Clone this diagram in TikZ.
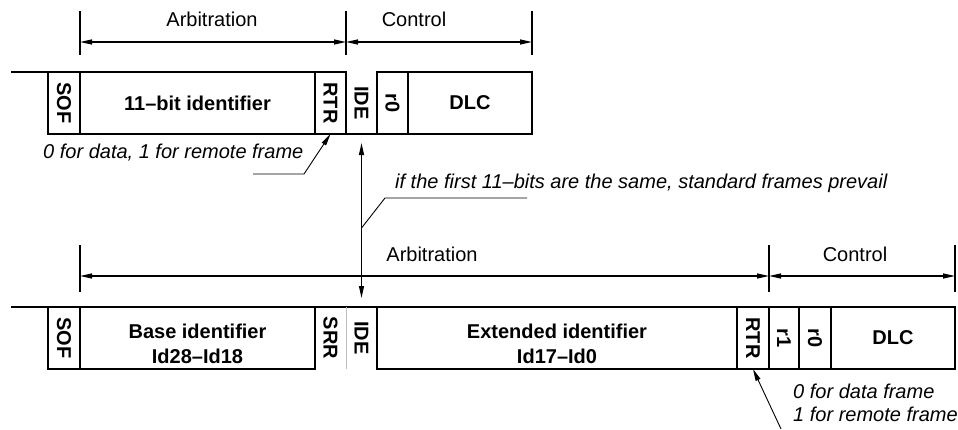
\documentclass[tikz,border=0pt]{standalone}
\usepackage{fontspec}
\setmainfont{Liberation Sans}
\usetikzlibrary{positioning, arrows.meta}
\tikzset{
	cell/.style={
		rectangle,
		draw,
		align=center,
		minimum height=62pt,
		inner sep=0pt,
		outer sep=0pt,
		line width=1.6pt,
		font=\bfseries\fontsize{20}{25}\selectfont,
	},
	bit/.style={
		cell,
		minimum width=31pt,
	},
	openbit/.style={
		cell,
		draw=none,
		minimum width=31pt,
	},
	celltext/.style={
		inner sep=0pt,
		align=center,
		font=\bfseries\fontsize{20}{25}\selectfont,
	},
	bus/.style={
		line width=1.6pt,
	},
	dimtick/.style={
		line width=1.2pt,
	},
	dimline/.style={
		<->,
		line width=1.2pt,
	},
	heading/.style={
		inner sep=0pt,
		font=\fontsize{20}{24}\selectfont,
	},
	note/.style={
		inner sep=0pt,
		align=left,
		font=\itshape\fontsize{20}{23}\selectfont,
	},
}

\begin{document}
\begin{tikzpicture}[x=1pt, y=1pt, >={Triangle[length=12pt, width=5pt]}]
		\useasboundingbox (0,0) rectangle (958,-429);

		% Standard frame
		\node [bit, minimum width=32pt, anchor=north west] (sofA) at (48,-72) {\rotatebox{-90}{SOF}};
		\node [cell, minimum width=235pt, right=0pt of sofA] (idA) {11--bit identifier};
		\node [bit, right=0pt of idA] (rtrA) {\rotatebox{-90}{RTR}};
		\node [openbit, right=0pt of rtrA] (ideA) {\rotatebox{-90}{IDE}};
		\node [bit, right=0pt of ideA] (r0A) {\rotatebox{-90}{r0}};
		\node [cell, minimum width=124pt, right=0pt of r0A] (dlcA) {DLC};

		\coordinate [left=37pt of sofA.north west] (busA);
		\draw [bus] (busA) -- (sofA.north west);
		\draw [bus] (ideA.south west) -- (ideA.south east);

		% Standard frame fields
		\draw [dimtick] (sofA.north east |- 0,-11) -- (sofA.north east |- 0,-55);
		\draw [dimtick] (rtrA.north east |- 0,-11) -- (rtrA.north east |- 0,-55);
		\draw [dimtick] (dlcA.north east |- 0,-11) -- (dlcA.north east |- 0,-55);
		\draw [dimline] (sofA.north east |- 0,-42) -- (rtrA.north east |- 0,-42);
		\draw [dimline] (rtrA.north east |- 0,-42) -- (dlcA.north east |- 0,-42);
		\node [heading] (arbA) at (212,-19) {Arbitration};
		\node [heading] (ctlA) at (414,-19) {Control};

		% RTR note
		\node [note, anchor=west] (noteA) at (43,-153) {0 for data, 1 for remote frame};
		\coordinate (legA) at (253,-174);
		\coordinate (kneeA) at (304,-174);
		\draw [->, line width=0.9pt] (legA) -- (kneeA) -- (rtrA.south);

		% Extended frame
		\node [bit, minimum width=32pt, anchor=north west] (sofB) at (48,-307) {\rotatebox{-90}{SOF}};
		\node [cell, minimum width=235pt, right=0pt of sofB] (baseB) {};
		\node [celltext] (baseBtext) at ([yshift=-6pt]baseB.center) {Base identifier\\Id28--Id18};
		\node [openbit, right=0pt of baseB] (srrB) {\rotatebox{-90}{SRR}};
		\node [openbit, right=0pt of srrB] (ideB) {\rotatebox{-90}{IDE}};
		\node [cell, minimum width=360pt, right=0pt of ideB] (extB) {};
		\node [celltext] (extBtext) at ([yshift=-6pt]extB.center) {Extended identifier\\Id17--Id0};
		\node [bit, minimum width=32pt, right=0pt of extB] (rtrB) {\rotatebox{-90}{RTR}};
		\node [bit, minimum width=30pt, right=0pt of rtrB] (r1B) {\rotatebox{-90}{r1}};
		\node [bit, minimum width=32pt, right=0pt of r1B] (r0B) {\rotatebox{-90}{r0}};
		\node [cell, minimum width=124pt, right=0pt of r0B] (dlcB) {DLC};

		\coordinate [left=37pt of sofB.north west] (busB);
		\draw [bus] (busB) -- (sofB.north west);
		\draw [bus] (srrB.north west) -- (ideB.north east);
		\draw [black!25, line width=1pt] (srrB.north east) -- (srrB.south east);

		% Extended frame fields
		\draw [dimtick] (sofB.north east |- 0,-245) -- (sofB.north east |- 0,-292);
		\draw [dimtick] (rtrB.north east |- 0,-245) -- (rtrB.north east |- 0,-292);
		\draw [dimtick] (dlcB.north east |- 0,-245) -- (dlcB.north east |- 0,-292);
		\draw [dimline] (sofB.north east |- 0,-276) -- (rtrB.north east |- 0,-276);
		\draw [dimline] (rtrB.north east |- 0,-276) -- (dlcB.north east |- 0,-276);
		\node [heading] (arbB) at (432,-254) {Arbitration};
		\node [heading] (ctlB) at (855,-254) {Control};

		% IDE comparison
		\draw [<->, line width=1.2pt, shorten <=9pt, shorten >=9pt] (ideA.south) -- (ideB.north);
		\coordinate (footM) at (ideA.south |- 0,-228);
		\coordinate (kneeM) at (385,-198);
		\coordinate (endM) at (527,-198);
		\draw [line width=0.9pt] (footM) -- (kneeM) -- (endM);
		\node [note, anchor=west] (noteM) at (395,-183) {if the first 11--bits are the same, standard frames prevail};

		% RTR note
		\node [note, anchor=west] (noteB) at (793,-403) {0 for data frame\\1 for remote frame};
		\coordinate (legB) at (781,-429);
		\draw [->, line width=0.9pt] (legB) -- (rtrB.south);

	\end{tikzpicture}
\end{document}
